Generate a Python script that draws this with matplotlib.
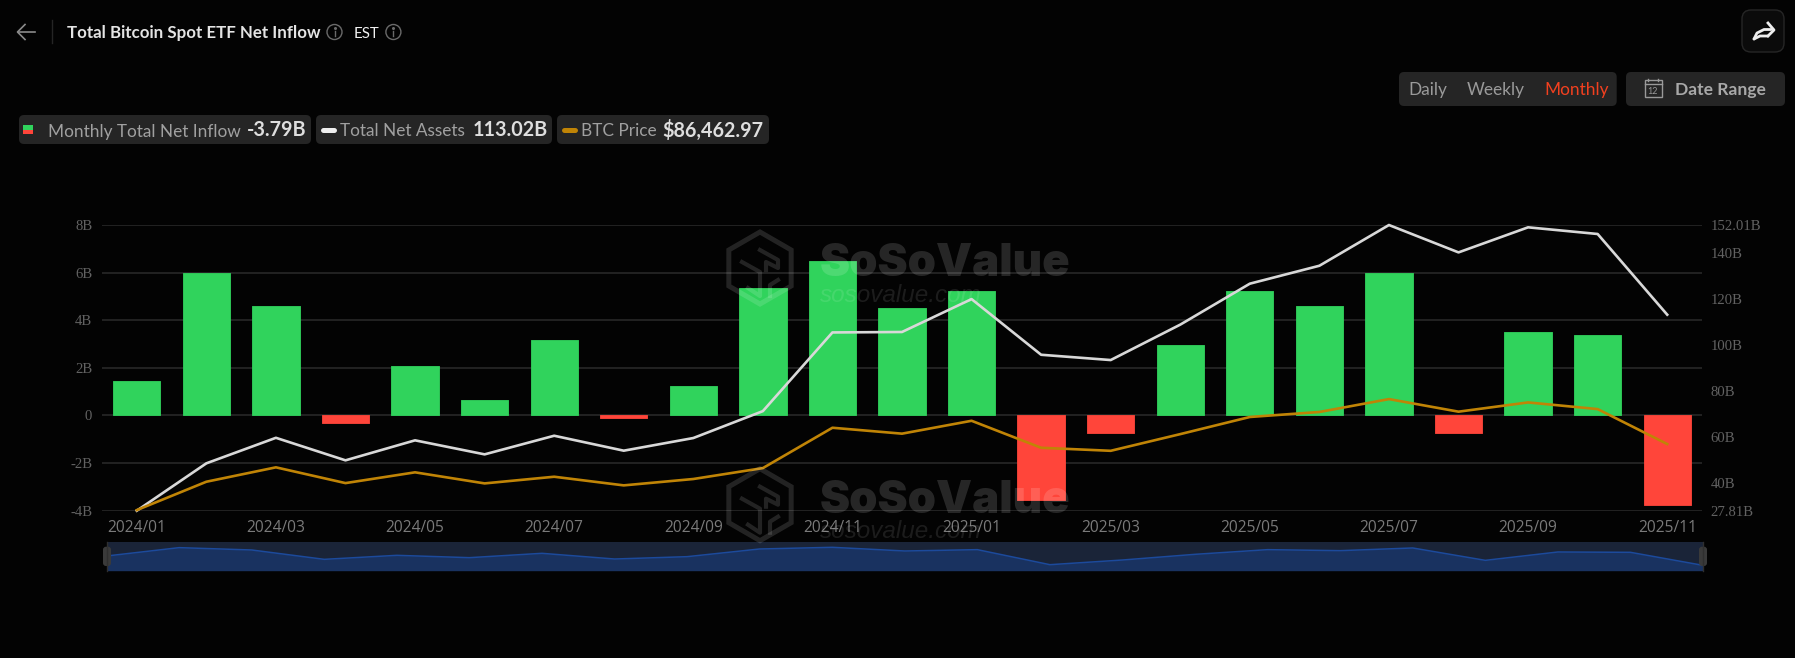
import matplotlib
matplotlib.use("Agg")
import matplotlib.pyplot as plt
from matplotlib.patches import FancyBboxPatch, Circle, Rectangle, RegularPolygon

W, H = 1795, 658

# ================================
# DATA
# ================================

months = [
    "2024/01", "2024/02", "2024/03", "2024/04", "2024/05", "2024/06",
    "2024/07", "2024/08", "2024/09", "2024/10", "2024/11", "2024/12",
    "2025/01", "2025/02", "2025/03", "2025/04", "2025/05", "2025/06",
    "2025/07", "2025/08", "2025/09", "2025/10", "2025/11",
]
net_inflow = [1.44, 6.0, 4.6, -0.3, 2.06, 0.66, 3.15, -0.1, 1.25, 5.34, 6.47, 4.51,
              5.22, -3.56, -0.72, 2.94, 5.21, 4.59, 6.0, -0.72, 3.5, 3.4, -3.77]
net_assets = [27.81, 48.4, 59.5, 49.7, 58.4, 52.3, 60.4, 53.9, 59.4, 71.1, 105.3, 105.5,
              119.8, 95.6, 93.3, 108.7, 126.5, 134.3, 152.0, 140.1, 151.0, 148.1, 113.02]
btc_price = [42900, 61600, 71100, 60700, 67800, 60500, 64900, 59200, 63400, 70600, 97200, 93300,
             101800, 84000, 82000, 93000, 104300, 107600, 116100, 107800, 113900, 109500, 86463]
nav_values = [44, 69, 62, 34, 46, 39, 52, 35, 42, 65, 70, 59,
              63, 18, 32, 49, 63, 60, 68, 31, 56, 55, 16]

left_ticks = [-4, -2, 0, 2, 4, 6, 8]
left_labels = ["-4B", "-2B", "0", "2B", "4B", "6B", "8B"]
right_ticks = [27.81, 40, 60, 80, 100, 120, 140, 152.01]
right_labels = ["27.81B", "40B", "60B", "80B", "100B", "120B", "140B", "152.01B"]

BG = "#030303"
GREEN = "#30d35c"
RED = "#ff453a"
WHITE_LINE = "#d8d8d8"
ORANGE = "#c08406"
GRID = "#2b2b2b"
TICK = "#626262"
PILL = "#252525"


def px_axes(x0, y0, x1, y1, **kw):
    return fig.add_axes([x0 / W, 1 - y1 / H, (x1 - x0) / W, (y1 - y0) / H], **kw)


fig = plt.figure(figsize=(W / 100, H / 100), dpi=100, facecolor=BG)

# ================================
# MAIN CHART
# ================================

ax = px_axes(102, 225, 1702, 510.7, facecolor=BG)
x = list(range(len(months)))
colors = [GREEN if v >= 0 else RED for v in net_inflow]
ax.bar(x, net_inflow, width=0.68, color=colors, edgecolor=colors, linewidth=0.6,
       joinstyle="round", zorder=3)
ax.set_xlim(-0.5, 22.5)
ax.set_ylim(-4, 8)
ax.set_yticks(left_ticks, left_labels, family="Liberation Serif", fontsize=10.6, color=TICK)
ax.set_xticks(x[::2], months[::2], family="Open Sans", fontsize=11.2, color="#7a7a7a")
ax.tick_params(axis="both", length=0)
ax.tick_params(axis="y", pad=7)
ax.tick_params(axis="x", pad=6.4)
ax.grid(True, axis="y", color=GRID, linewidth=1.1, zorder=0)
for s in ax.spines.values():
    s.set_visible(False)

ax_assets = ax.twinx()
ax_assets.plot(x, net_assets, color=WHITE_LINE, linewidth=1.9, clip_on=False, zorder=4)
ax_assets.set_ylim(27.81, 152.01)
ax_assets.set_yticks(right_ticks, right_labels, family="Liberation Serif", fontsize=10.6, color=TICK)
ax_assets.tick_params(axis="y", length=0, pad=6)

ax_btc = ax.twinx()
ax_btc.plot(x, btc_price, color=ORANGE, linewidth=1.9, clip_on=False, zorder=4)
ax_btc.set_ylim(42500, 230900)
ax_btc.axis("off")

for a in (ax_assets, ax_btc):
    for s in a.spines.values():
        s.set_visible(False)

# ================================
# NAVIGATOR
# ================================

nav = px_axes(106.6, 542.3, 1703, 570.7, facecolor="#1a2438")
nav.fill_between(x, nav_values, 0, color="#193260", linewidth=0)
nav.plot(x, nav_values, color="#1c4a9c", linewidth=1.1)
nav.set_xlim(0, 22)
nav.set_ylim(0, 85)
nav.set_xticks([])
nav.set_yticks([])
for s in nav.spines.values():
    s.set_visible(False)

# ================================
# PAGE CHROME + WATERMARK
# ================================

ui = fig.add_axes([0, 0, 1, 1], zorder=10)
ui.set_xlim(0, W)
ui.set_ylim(H, 0)
ui.axis("off")
ui.patch.set_alpha(0)


def box(x0, y0, x1, y1, color=PILL, r=5, edge="none"):
    ui.add_patch(FancyBboxPatch((x0, y0), x1 - x0, y1 - y0,
                                boxstyle=f"round,pad=0,rounding_size={r}",
                                facecolor=color, edgecolor=edge, linewidth=1))


def label(x0, y0, s, size, color, weight="normal", family="Lato", ha="left", **kw):
    # y0 is the text baseline
    ui.text(x0, y0, s, fontsize=size, color=color, fontweight=weight, family=family,
            ha=ha, va="baseline", **kw)


def info_icon(cx, cy):
    ui.add_patch(Circle((cx, cy), 7.5, fill=False, edgecolor="#6a6a6a", linewidth=1))
    ui.plot([cx, cx], [cy - 1.5, cy + 4], color="#6a6a6a", linewidth=1)
    ui.plot([cx], [cy - 4], marker="o", markersize=1.2, color="#6a6a6a")


# header
ui.plot([17.5, 34.5], [32, 32], color="#8a8a8a", linewidth=1.2)
ui.plot([25, 17.5, 25], [24.5, 32, 39.5], color="#8a8a8a", linewidth=1.2)
ui.plot([52.4, 52.4], [20, 43], color="#252525", linewidth=1)
label(67.4, 38, "Total Bitcoin Spot ETF Net Inflow", 12.15, "#e4e4e4", weight="bold")
info_icon(334.5, 32)
label(354, 37.5, "EST", 10.8, "#f0f0f0")
info_icon(393.4, 32)

# share button
box(1742, 10, 1784, 52, color="#0b0b0b", r=9, edge="#262626")
ui.plot([1754, 1757, 1764, 1771], [39, 33, 29.5, 29.5], color="#eeeeee", linewidth=2,
        solid_capstyle="round")
ui.plot([1768, 1774, 1768], [23, 30, 36], color="#eeeeee", linewidth=2, solid_joinstyle="round")
ui.plot([1754, 1760, 1768], [39, 36, 36], color="#eeeeee", linewidth=2, solid_capstyle="round")

# period switch
box(1399, 72, 1616.7, 106)
label(1408, 94.5, "Daily", 12.4, "#9a9a9a")
label(1466.7, 94.5, "Weekly", 12.4, "#9a9a9a")
label(1544, 94.5, "Monthly", 12.4, "#f2401f")
box(1626, 72, 1785, 106)
ui.add_patch(Rectangle((1644.5, 80), 17, 17, fill=False, edgecolor="#9a9a9a", linewidth=1))
ui.plot([1644.5, 1661.5], [84, 84], color="#9a9a9a", linewidth=1)
ui.plot([1648, 1648], [78.5, 81], color="#9a9a9a", linewidth=1)
ui.plot([1658, 1658], [78.5, 81], color="#9a9a9a", linewidth=1)
label(1653, 94, "12", 6.5, "#9a9a9a", ha="center")
label(1674.7, 94.5, "Date Range", 12.6, "#a8a8a8", weight="bold")

# legend pills
box(19, 115, 311, 144)
ui.add_patch(Rectangle((23, 125), 10, 4.5, color=GREEN, linewidth=0))
ui.add_patch(Rectangle((23, 129.5), 10, 4.5, color=RED, linewidth=0))
label(47.5, 136.5, "Monthly Total Net Inflow", 12.45, "#a0a0a0")
label(247, 136.5, "-3.79B", 14.2, "#dedede", weight="bold")

box(316, 115, 552, 144)
ui.plot([323, 333.5], [130, 130], color="#eeeeee", linewidth=3.6, solid_capstyle="round")
label(340, 136.5, "Total Net Assets", 12.45, "#a0a0a0")
label(472.7, 136.5, "113.02B", 14.2, "#dedede", weight="bold")

box(557, 115, 769, 144)
ui.plot([564, 574.5], [130, 130], color=ORANGE, linewidth=3.6, solid_capstyle="round")
label(581, 136.5, "BTC Price", 12.45, "#a0a0a0")
label(662.7, 136.5, "$86,462.97", 14.2, "#dedede", weight="bold")

# navigator handles
for hx in (107, 1703):
    ui.plot([hx, hx], [542, 571], color="#2f2f2f", linewidth=1)
    box(hx - 4, 546.7, hx + 4, 566, color="#3a3a3a", r=3)

# watermark, drawn twice
for dy in (0, 236.7):
    ui.add_patch(RegularPolygon((760, 268 + dy), 6, radius=36, fill=False,
                                edgecolor="white", alpha=0.13, linewidth=3.6))
    ui.plot([760, 778, 778, 766, 766], [250 + dy, 260 + dy, 268 + dy, 262 + dy, 270 + dy],
            color="white", alpha=0.13, linewidth=3)
    ui.plot([742, 760, 760, 748], [262 + dy, 272 + dy, 296 + dy, 288 + dy],
            color="white", alpha=0.13, linewidth=3)
    ui.plot([778, 770, 770], [280 + dy, 285 + dy, 296 + dy], color="white", alpha=0.13, linewidth=3)
    ui.text(820, 276 + dy, "SoSoValue", fontsize=32.7, family="Inter", fontweight=900,
            color="white", alpha=0.14, ha="left", va="baseline")
    ui.text(820, 301.5 + dy, "sosovalue.com", fontsize=17.5, family="Liberation Sans", style="italic",
            color="white", alpha=0.1, ha="left", va="baseline")

fig.savefig("out.png", dpi=100, facecolor=BG)
